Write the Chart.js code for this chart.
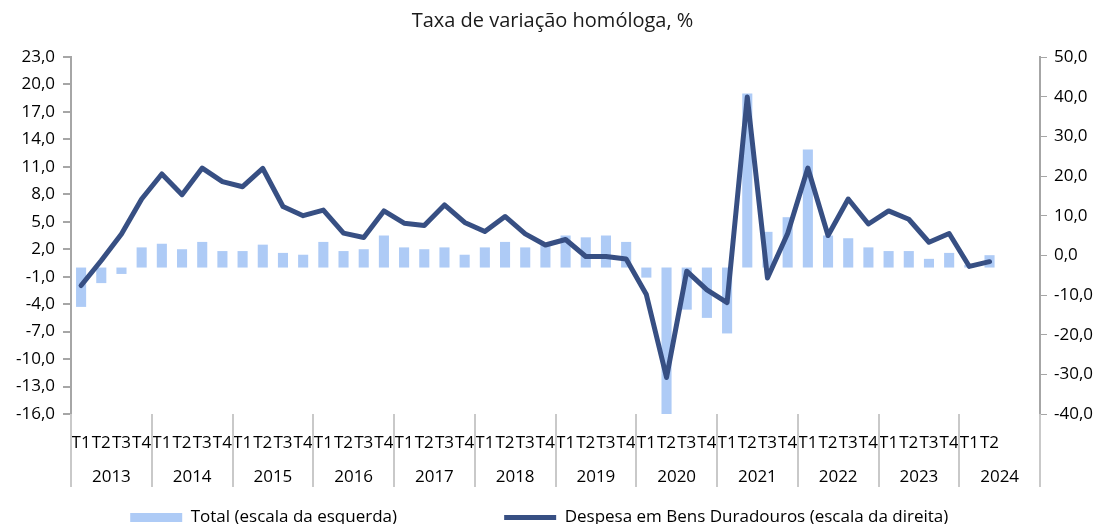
<!DOCTYPE html>
<html>
<head>
<meta charset="utf-8">
<script src="https://cdn.jsdelivr.net/npm/chart.js@4.4.0/dist/chart.umd.min.js"></script>
<style>
  html, body { margin: 0; padding: 0; background: #fff; overflow: hidden; }
  #wrap { position: relative; width: 1105px; height: 536px; }
</style>
</head>
<body>
<div id="wrap"><canvas id="chart"></canvas></div>
<script>
var years = ['2013', '2014', '2015', '2016', '2017', '2018', '2019', '2020', '2021', '2022', '2023', '2024'];
var quarters = ['T1', 'T2', 'T3', 'T4'];

// Total (escala da esquerda), %
var total = [-4.3, -1.7, -0.7, 2.2, 2.6, 2.0, 2.8, 1.8, 1.8, 2.5, 1.6, 1.4,
             2.8, 1.8, 2.0, 3.5, 2.2, 2.0, 2.2, 1.4, 2.2, 2.8, 2.2, 2.5,
             3.5, 3.3, 3.5, 2.8, -1.1, -16.2, -4.6, -5.5, -7.2, 19.0, 3.9, 5.5,
             12.9, 3.5, 3.2, 2.2, 1.8, 1.8, 0.95, 1.6, 0.3, 1.35];

// Despesa em Bens Duradouros (escala da direita), %
var duradouros = [-7.6, -1.3, 5.4, 14.2, 20.5, 15.3, 22.0, 18.6, 17.3, 21.9, 12.3, 10.0,
                  11.4, 5.6, 4.5, 11.2, 8.1, 7.5, 12.7, 8.3, 6.0, 9.8, 5.4, 2.6,
                  4.0, -0.3, -0.3, -0.9, -9.9, -30.8, -4.0, -8.7, -11.9, 39.9, -5.7, 5.5,
                  22.0, 5.0, 14.2, 7.9, 11.2, 9.1, 3.3, 5.5, -2.8, -1.6];

var labels = [];
years.forEach(function (y, i) {
    quarters.forEach(function (q, j) {
        labels.push(i * 4 + j < total.length ? q : '');
    });
});

function fmt(v) {
    return v.toFixed(1).replace('.', ',');
}

var axisGrey = '#a6a6a6';

// second row of the category axis: years and separators
var yearRows = {
    id: 'yearRows',
    afterDraw: function (chart) {
        var x = chart.scales.x;
        var ctx = chart.ctx;
        var half = (x.getPixelForValue(1) - x.getPixelForValue(0)) / 2;
        var top = chart.chartArea.bottom;
        ctx.save();
        ctx.strokeStyle = '#c9c9c9';
        ctx.lineWidth = 2;
        for (var k = 0; k <= years.length; k++) {
            var px = Math.round(x.getPixelForValue(k * 4) - half);
            ctx.beginPath();
            ctx.moveTo(px, top);
            ctx.lineTo(px, top + 73);
            ctx.stroke();
        }
        ctx.fillStyle = '#000';
        ctx.font = "17px 'Open Sans'";
        ctx.textAlign = 'center';
        ctx.textBaseline = 'middle';
        years.forEach(function (y, k) {
            var cx = (x.getPixelForValue(k * 4) + x.getPixelForValue(k * 4 + 3)) / 2;
            ctx.fillText(y, cx, top + 63);
        });
        ctx.restore();
    }
};

Chart.defaults.font.family = "'Open Sans', sans-serif";
Chart.defaults.color = '#000';

// extra blank room after each legend entry (number of spaces)
var legendGap = [22, 6];

new Chart(document.getElementById('chart'), {
    type: 'bar',
    data: {
        labels: labels,
        datasets: [{
            type: 'bar',
            label: 'Total (escala da esquerda)',
            data: total,
            yAxisID: 'y',
            backgroundColor: '#aecbf6',
            barPercentage: 0.5,
            categoryPercentage: 1,
            pointStyle: 'rect',
            order: 1
        }, {
            type: 'line',
            label: 'Despesa em Bens Duradouros (escala da direita)',
            data: duradouros,
            yAxisID: 'y2',
            borderColor: '#374f83',
            backgroundColor: '#374f83',
            borderWidth: 5,
            borderCapStyle: 'round',
            borderJoinStyle: 'round',
            pointRadius: 0,
            pointStyle: 'line',
            tension: 0,
            order: 0
        }]
    },
    options: {
        responsive: true,
        maintainAspectRatio: false,
        animation: false,
        layout: { padding: 0 },
        plugins: {
            title: {
                display: true,
                text: 'Taxa de variação homóloga, %',
                color: '#1a1a1a',
                font: { size: 20, weight: 'normal' },
                padding: { top: 9, bottom: 24 }
            },
            legend: {
                position: 'bottom',
                labels: {
                    usePointStyle: true,
                    pointStyleWidth: 52,
                    boxHeight: 9,
                    padding: 10,
                    font: { size: 17 },
                    color: '#000',
                    sort: function (a, b) { return a.datasetIndex - b.datasetIndex; },
                    generateLabels: function (chart) {
                        var items = Chart.defaults.plugins.legend.labels.generateLabels(chart);
                        items.forEach(function (it) {
                            it.text = it.text + ' '.repeat(legendGap[it.datasetIndex]);
                        });
                        return items;
                    }
                }
            },
            tooltip: { enabled: false }
        },
        scales: {
            x: {
                offset: true,
                grid: { display: false, drawTicks: false },
                border: { display: false },
                ticks: {
                    autoSkip: false,
                    maxRotation: 0,
                    minRotation: 0,
                    padding: 19,
                    font: { size: 17 }
                },
                afterFit: function (s) { s.height = 85; }
            },
            y: {
                position: 'left',
                min: -16,
                max: 23,
                ticks: {
                    stepSize: 3,
                    padding: 8,
                    font: { size: 17 },
                    callback: function (v) { return fmt(v); }
                },
                grid: {
                    color: function (c) { return c.tick && c.tick.value === 0 ? '#c0c0c0' : 'rgba(0,0,0,0)'; },
                    lineWidth: 2,
                    tickColor: axisGrey,
                    tickLength: 8
                },
                border: { color: axisGrey, width: 2 },
                afterFit: function (s) { s.width = 71; }
            },
            y2: {
                position: 'right',
                min: -40,
                max: 50,
                ticks: {
                    stepSize: 10,
                    padding: 7,
                    font: { size: 17 },
                    callback: function (v) { return fmt(v); }
                },
                grid: {
                    drawOnChartArea: false,
                    tickColor: axisGrey,
                    tickLength: 7
                },
                border: { color: axisGrey, width: 2 },
                afterFit: function (s) { s.width = 65; }
            }
        }
    },
    plugins: [yearRows]
});
</script>
</body>
</html>
